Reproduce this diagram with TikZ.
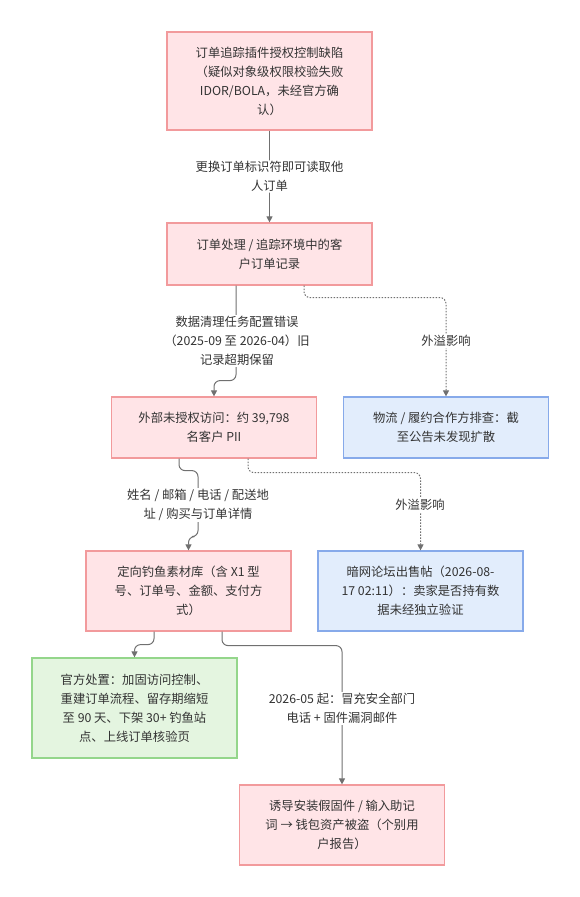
\documentclass[tikz,border=0pt]{standalone}
\usepackage{fontspec}
\setmainfont{Noto Sans CJK SC}
\usetikzlibrary{arrows.meta}
\definecolor{rfill}{HTML}{FFE4E7}
\definecolor{rdraw}{HTML}{F29A9C}
\definecolor{bfill}{HTML}{E2EDFC}
\definecolor{bdraw}{HTML}{87AAEA}
\definecolor{gfill}{HTML}{E4F5E0}
\definecolor{gdraw}{HTML}{94D68B}
\definecolor{lgray}{HTML}{707070}
\definecolor{tcol}{HTML}{333333}
\tikzset{
  box/.style={draw, line width=1.2pt, minimum width=205pt, align=center, text=tcol,
    font=\fontsize{12.3pt}{19pt}\selectfont, inner sep=0pt},
  redbox/.style={box, fill=rfill, draw=rdraw},
  bluebox/.style={box, fill=bfill, draw=bdraw},
  greenbox/.style={box, fill=gfill, draw=gdraw},
  elabel/.style={fill=white, align=center, text=tcol, inner sep=1pt,
    font=\fontsize{12.3pt}{19pt}\selectfont},
  arr/.style={draw=lgray, line width=1pt, rounded corners=6pt,
    -{Triangle[length=6pt,width=6pt]}},
  darr/.style={arr, dash pattern=on 1.5pt off 1.5pt},
}
\begin{document}
\begin{tikzpicture}[x=1pt,y=-1pt]
\useasboundingbox (0,0) rectangle (580,897);

\node[redbox, minimum height=98pt] (b1) at (269.5,81)
  {订单追踪插件授权控制缺陷\\（疑似对象级权限校验失败\\IDOR/BOLA，未经官方确\\认）};
\node[redbox, minimum height=62pt] (b2) at (269.5,254)
  {订单处理 / 追踪环境中的客\\户订单记录};
\node[redbox, minimum height=61pt] (b3) at (214,427.5)
  {外部未授权访问：约 39,798\\名客户 PII};
\node[bluebox, minimum height=61pt] (b4) at (446,427.5)
  {物流 / 履约合作方排查：截\\至公告未发现扩散};
\node[redbox, minimum height=80pt] (b5) at (188.5,591)
  {定向钓鱼素材库（含 X1 型\\号、订单号、金额、支付方\\式）};
\node[bluebox, minimum height=80pt] (b6) at (420.5,591)
  {暗网论坛出售帖（2026-08-\\17 02:11）：卖家是否持有数\\据未经独立验证};
\node[greenbox, minimum height=100pt] (b7) at (134.5,708)
  {官方处置：加固访问控制、\\重建订单流程、留存期缩短\\至 90 天、下架 30+ 钓鱼站\\点、上线订单核验页};
\node[redbox, minimum height=80pt] (b8) at (342,825)
  {诱导安装假固件 / 输入助记\\词 → 钱包资产被盗（个别用\\户报告）};

% edges
\draw[arr] (b1.south) -- (b2.north)
  node[elabel, midway] (l1) {更换订单标识符即可读取他\\人订单};

\draw[arr] ([xshift=-33.5pt]b2.south) -- ++(0,95) -| (b3.north);
\node[elabel] (l2) at (237,341) {数据清理任务配置错误\\（2025-09 至 2026-04）旧\\记录超期保留};

\draw[darr] ([xshift=34.5pt]b2.south) -- ++(0,12) -| (b4.north);
\node[elabel] (l3) at (446,341) {外溢影响};

\draw[arr] ([xshift=-35pt]b3.south) -- ++(0,12) -| ++(19,66) -| (b5.north);
\node[elabel] (l4) at (198,505) {姓名 / 邮箱 / 电话 / 配送地\\址 / 购买与订单详情};

\draw[darr] ([xshift=34pt]b3.south) -- ++(0,14) -| (b6.north);
\node[elabel] (l5) at (420,505) {外溢影响};

\draw[arr] ([xshift=-34.5pt]b5.south) -- ++(0,13) -| (b7.north);

\draw[arr] ([xshift=33.5pt]b5.south) -- ++(0,14) -| (b8.north);
\node[elabel] (l6) at (342,708.5) {2026-05 起：冒充安全部门\\电话 + 固件漏洞邮件};
\end{tikzpicture}
\end{document}
